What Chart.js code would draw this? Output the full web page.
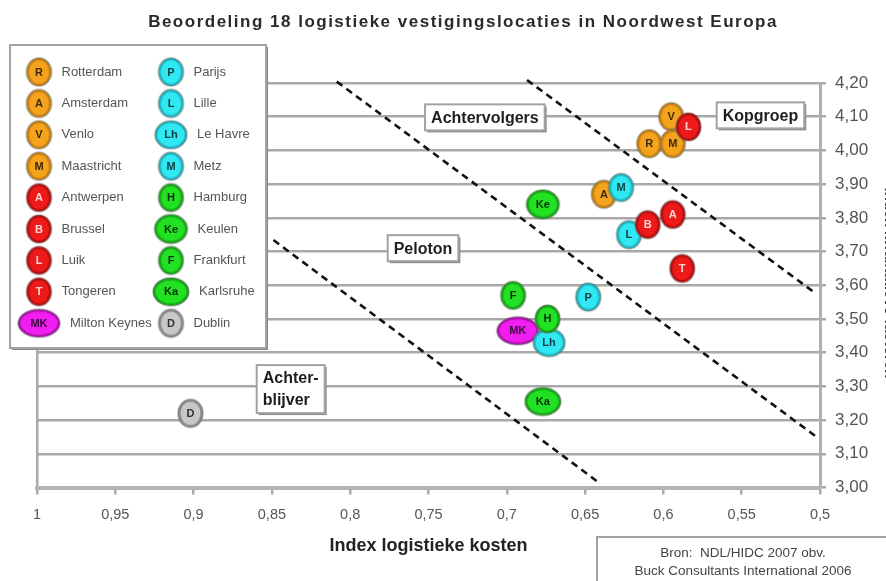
<!DOCTYPE html>
<html lang="nl">
<head>
<meta charset="utf-8">
<title>Beoordeling 18 logistieke vestigingslocaties in Noordwest Europa</title>
<script src="https://cdn.jsdelivr.net/npm/chart.js@4.4.1/dist/chart.umd.min.js"></script>
<style>
  html, body { margin: 0; padding: 0; background: #fff; overflow: hidden; }
  #wrap { position: relative; width: 886px; height: 581px; }
</style>
</head>
<body>
<div id="wrap"><canvas id="c" width="886" height="581"></canvas></div>
<script>
// Vestigingslocaties (volgorde van de legenda)
const cities = ['Rotterdam', 'Amsterdam', 'Venlo', 'Maastricht', 'Antwerpen', 'Brussel', 'Luik', 'Tongeren',
  'Milton Keynes', 'Parijs', 'Lille', 'Le Havre', 'Metz', 'Hamburg', 'Keulen', 'Frankfurt', 'Karlsruhe', 'Dublin'];
const codes = ['R', 'A', 'V', 'M', 'A', 'B', 'L', 'T', 'MK', 'P', 'L', 'Lh', 'M', 'H', 'Ke', 'F', 'Ka', 'D'];
const landen = ['NL', 'NL', 'NL', 'NL', 'BE', 'BE', 'BE', 'BE', 'UK', 'FR', 'FR', 'FR', 'FR', 'DE', 'DE', 'DE', 'DE', 'IE'];

// Index logistieke kosten (x) en index kwalitatieve factoren (y)
const kosten    = [0.609, 0.638, 0.595, 0.594, 0.594, 0.610, 0.584, 0.588, 0.693, 0.648, 0.622, 0.673, 0.627, 0.674, 0.677, 0.696, 0.677, 0.902];
const kwaliteit = [4.02, 3.87, 4.10, 4.02, 3.81, 3.78, 4.07, 3.65, 3.465, 3.565, 3.75, 3.43, 3.89, 3.50, 3.84, 3.57, 3.255, 3.22];

// Asverdeling
const xTicks = [1, 0.95, 0.9, 0.85, 0.8, 0.75, 0.7, 0.65, 0.6, 0.55, 0.5];
const yTicks = [3.0, 3.1, 3.2, 3.3, 3.4, 3.5, 3.6, 3.7, 3.8, 3.9, 4.0, 4.1, 4.2];

// Scheidslijnen tussen de groepen: begin- en eindpunt
const grensX = [[0.849, 0.6405], [0.8086, 0.5013], [0.6871, 0.5043]];
const grensY = [[3.734, 3.012], [4.204, 3.147], [4.209, 3.581]];

// Groepsnamen en hun plaats in het diagram
const zoneNamen = [['Achtervolgers'], ['Kopgroep'], ['Peloton'], ['Achter-', 'blijver']];
const zoneX = [0.714, 0.538, 0.7535, 0.838];
const zoneY = [4.098, 4.104, 3.710, 3.292];

// ---- opmaak ----
const FONT = "'Liberation Sans', Arial, Helvetica, sans-serif";
const kleur = {
  NL: { fill: '#f5a21c', ring: '#c98312', text: '#3b2a0c' },
  BE: { fill: '#ee1a1a', ring: '#b80e0e', text: '#ffd6d6' },
  UK: { fill: '#f01ef0', ring: '#b012b0', text: '#3a0a3a' },
  FR: { fill: '#30e8f2', ring: '#1fb9c4', text: '#0b3d44' },
  DE: { fill: '#22e022', ring: '#16a816', text: '#0a300a' },
  IE: { fill: '#c8c8c8', ring: '#8c8c8c', text: '#303030' }
};
const vorm = { MK: [42, 28], Ka: [36, 28], Ke: [33, 29], Lh: [32, 28] };
// tekenvolgorde: hogere waarde ligt bovenop
const laag = [0, 4, 1, 2, 9, 8, 3, 10, 11, 14, 7, 12, 5, 13, 6, 15, 16, 17];

function maakBel(code, land) {
  const [w, h] = vorm[code] || [25, 28];
  const c = kleur[land];
  const cv = document.createElement('canvas');
  cv.width = w + 4; cv.height = h + 4;
  const g = cv.getContext('2d');
  const cx = cv.width / 2, cy = cv.height / 2;
  g.beginPath(); g.ellipse(cx, cy, w / 2, h / 2, 0, 0, Math.PI * 2);
  g.fillStyle = c.ring; g.fill();
  g.lineWidth = 1.5; g.strokeStyle = 'rgba(90,90,90,0.45)'; g.stroke();
  g.beginPath(); g.ellipse(cx, cy, w / 2 - 2.5, h / 2 - 2.5, 0, 0, Math.PI * 2);
  g.fillStyle = c.fill; g.fill();
  return cv;
}
const bellen = codes.map((c, i) => maakBel(c, landen[i]));

const fmtX = v => String(v).replace('.', ',');
const fmtY = v => v.toFixed(2).replace('.', ',');

const datasets = [];
grensX.forEach((gx, i) => {
  datasets.push({
    type: 'scatter', label: 'grens ' + (i + 1),
    data: gx.map((x, j) => ({ x, y: grensY[i][j] })),
    showLine: true, borderColor: '#111', borderWidth: 2.6, borderDash: [7, 5],
    pointRadius: 0, clip: false, order: 100
  });
});
cities.forEach((naam, i) => {
  datasets.push({
    type: 'scatter', label: naam, code: codes[i], land: landen[i],
    data: [{ x: kosten[i], y: kwaliteit[i] }],
    pointStyle: bellen[i], pointRadius: 12, order: -laag[i]
  });
});

function bordje(ctx, x, y, w, h) {
  ctx.fillStyle = '#8a8a8a';
  ctx.fillRect(x + 2, y + 2, w, h);
  ctx.fillStyle = '#fff';
  ctx.fillRect(x, y, w, h);
  ctx.lineWidth = 2; ctx.strokeStyle = '#a2a2a2';
  ctx.strokeRect(x, y, w, h);
}

// Teksten in de bellen, direct na elke bel zodat de stapeling klopt
const belTekst = {
  id: 'belTekst',
  afterDatasetDraw(chart, args) {
    const ds = chart.data.datasets[args.index];
    if (!ds.code) return;
    const pt = args.meta.data[0];
    const ctx = chart.ctx;
    ctx.save();
    ctx.font = 'bold 11px ' + FONT;
    ctx.fillStyle = kleur[ds.land].text;
    ctx.textAlign = 'center'; ctx.textBaseline = 'middle';
    ctx.fillText(ds.code, pt.x, pt.y + 0.5);
    ctx.restore();
  }
};

// Groepsnamen in kaders
const zones = {
  id: 'zones',
  beforeDatasetsDraw(chart) {
    const { ctx, scales: { x, y } } = chart;
    ctx.save();
    ctx.font = 'bold 16px ' + FONT;
    zoneNamen.forEach((regels, i) => {
      const px = x.getPixelForValue(zoneX[i]);
      const py = y.getPixelForValue(zoneY[i]);
      const tw = Math.max(...regels.map(r => ctx.measureText(r).width));
      const w = tw + 12, h = regels.length * 22 + 4;
      bordje(ctx, px - w / 2, py - h / 2, w, h);
      ctx.fillStyle = '#1e1e1e';
      ctx.textAlign = 'left'; ctx.textBaseline = 'middle';
      regels.forEach((r, k) => {
        ctx.fillText(r, px - tw / 2, py - (regels.length - 1) * 11 + k * 22 + 1);
      });
    });
    ctx.restore();
  }
};

// Legenda, titel, bron en y-astitel
const extra = {
  id: 'extra',
  afterDraw(chart) {
    const ctx = chart.ctx;
    ctx.save();
    // legenda
    bordje(ctx, 10, 45, 256, 303);
    ctx.font = '13px ' + FONT;
    ctx.textBaseline = 'middle'; ctx.textAlign = 'left';
    cities.forEach((naam, i) => {
      const kol = i < 9 ? 0 : 1;
      const rij = kol ? i - 9 : i;
      const cx = kol ? 171 : 39;
      const cy = 72 + rij * 31.4;
      const b = bellen[i];
      ctx.drawImage(b, cx - b.width / 2, cy - b.height / 2);
      ctx.save();
      ctx.font = 'bold 11px ' + FONT;
      ctx.fillStyle = kleur[landen[i]].text; ctx.textAlign = 'center';
      ctx.fillText(codes[i], cx, cy + 0.5);
      ctx.restore();
      ctx.fillStyle = '#555';
      ctx.fillText(naam, cx + (b.width - 4) / 2 + 10, cy);
    });
    // titel
    ctx.font = 'bold 17px ' + FONT;
    ctx.letterSpacing = '1.5px';
    ctx.fillStyle = '#2a2a2a'; ctx.textAlign = 'center';
    ctx.fillText('Beoordeling 18 logistieke vestigingslocaties in Noordwest Europa', 463, 22);
    ctx.letterSpacing = '0px';
    // bron
    bordje(ctx, 597, 537, 300, 60);
    ctx.font = '13.5px ' + FONT;
    ctx.fillStyle = '#444';
    ctx.fillText('Bron:  NDL/HIDC 2007 obv.', 743, 553);
    ctx.fillText('Buck Consultants International 2006', 743, 571);
    // titel van de y-as
    ctx.translate(884.5, 283);
    ctx.rotate(Math.PI / 2);
    ctx.font = 'bold 15px ' + FONT;
    ctx.fillStyle = '#333'; ctx.textBaseline = 'alphabetic';
    ctx.fillText('Index kwalitatieve factoren', 0, 0);
    ctx.restore();
  }
};

new Chart(document.getElementById('c'), {
  type: 'scatter',
  data: { datasets },
  plugins: [belTekst, zones, extra],
  options: {
    responsive: false,
    devicePixelRatio: 1,
    animation: false,
    events: [],
    layout: { padding: { left: 37, top: 83, right: 0, bottom: 0 } },
    font: { family: FONT },
    plugins: { legend: { display: false }, tooltip: { enabled: false }, title: { display: false } },
    scales: {
      x: {
        type: 'linear', reverse: true, min: 0.5, max: 1,
        afterBuildTicks: s => { s.ticks = xTicks.map(v => ({ value: v })); },
        afterFit: s => { s.height = 93.5; },
        ticks: {
          callback: v => fmtX(v), autoSkip: false, maxRotation: 0,
          font: { family: FONT, size: 14.5 },
          color: '#555', padding: 12
        },
        grid: {
          color: c => (c.tick && c.tick.value === 1) ? '#aaaaaa' : 'rgba(0,0,0,0)',
          lineWidth: 2.5, tickColor: '#aaaaaa', tickLength: 7, drawOnChartArea: true
        },
        border: { color: '#b5b5b5', width: 4 },
        title: {
          display: true, text: 'Index logistieke kosten', color: '#222',
          font: { family: FONT, weight: 'bold', size: 18 }, padding: { top: 0, bottom: 24 }
        }
      },
      y: {
        type: 'linear', position: 'right', min: 3, max: 4.2,
        afterBuildTicks: s => { s.ticks = yTicks.map(v => ({ value: v })); },
        afterFit: s => { s.width = 66; },
        ticks: { callback: v => fmtY(v), font: { family: FONT, size: 17 }, color: '#555', padding: 9 },
        grid: { color: '#a9a9a9', lineWidth: 2.5, tickLength: 6 },
        border: { color: '#b0b0b0', width: 3 }
      }
    }
  }
});
</script>
</body>
</html>
